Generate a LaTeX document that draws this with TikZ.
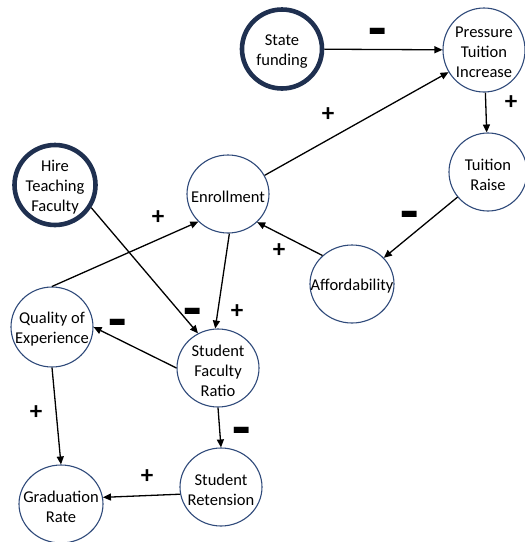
\documentclass[tikz,border=0pt]{standalone}
\usepackage{fontspec}
\setmainfont{Carlito}
\usetikzlibrary{shapes.geometric,arrows.meta}
\definecolor{ringblue}{HTML}{2F4A7A}
\definecolor{navy}{HTML}{1F3050}
\tikzset{
  circ/.style={ellipse, draw=ringblue, line width=1.1pt, inner sep=0pt},
  thickcirc/.style={ellipse, draw=navy, line width=4.6pt, inner sep=0pt},
  txt/.style={align=center, font=\fontsize{16.5}{20}\selectfont, inner sep=0pt, yshift=-2.5pt},
  conn/.style={line width=1.3pt, -{Triangle[length=8pt,width=7pt]}},
  plus/.style={font=\fontsize{25}{25}\selectfont\bfseries, inner sep=0pt},
  minus/.style={font=\fontsize{60}{60}\selectfont\bfseries, inner sep=0pt, yshift=-9pt}
}
\begin{document}
\begin{tikzpicture}[x=1pt,y=-1pt]
\useasboundingbox (0,0) rectangle (525,542);
% nodes
\node[thickcirc, minimum width=80pt, minimum height=79pt, label={[txt]center:State\\funding}] (sf) at (282,49) {};
\node[circ, minimum width=82pt, minimum height=84pt, label={[txt]center:Pressure\\Tuition\\Increase}] (pti) at (484,50) {};
\node[circ, minimum width=78pt, minimum height=78pt, label={[txt]center:Tuition\\Raise}] (tr) at (488,172) {};
\node[circ, minimum width=82pt, minimum height=78pt, label={[txt]center:Enrollment}] (en) at (228,194) {};
\node[thickcirc, minimum width=81pt, minimum height=80pt, label={[txt]center:Hire\\Teaching\\Faculty}] (htf) at (55,185) {};
\node[circ, minimum width=84pt, minimum height=78pt, label={[txt]center:Affordability}] (af) at (352,284) {};
\node[circ, minimum width=82pt, minimum height=80pt, label={[txt]center:Quality of\\Experience}] (qe) at (52,327) {};
\node[circ, minimum width=82pt, minimum height=78pt, label={[txt]center:Student\\Faculty\\Ratio}] (sfr) at (218,368) {};
\node[circ, minimum width=82pt, minimum height=78pt, label={[txt]center:Student\\Retension}] (sr) at (221,487) {};
\node[circ, minimum width=84pt, minimum height=78pt, label={[txt]center:Graduation\\Rate}] (gr) at (61,504) {};
% connectors
\draw[conn] (sf) -- (pti);
\draw[conn] (en.27) -- (pti.212);
\draw[conn] (pti) -- (tr);
\draw[conn] (tr) -- (af);
\draw[conn] (af.136) -- (en.-44);
\draw[conn] (qe.north) -- (en.223);
\draw[conn] (htf.-32) -- (sfr.120);
\draw[conn] (en.-88) -- (sfr.94);
\draw[conn] (sfr.west) -- (qe.east);
\draw[conn] (qe.south) -- (gr.north);
\draw[conn] (sfr.south) -- (sr.north);
\draw[conn] (sr.190) -- (gr.9);
% signs
\node[minus] (m1) at (378,29) {-};
\node[plus] (p1) at (328,115) {+};
\node[plus] (p2) at (511,103) {+};
\node[plus] (p3) at (158,218) {+};
\node[minus] (m2) at (410,212) {-};
\node[plus] (p4) at (279,251) {+};
\node[minus] (m3) at (193,309) {-};
\node[plus] (p5) at (237,312) {+};
\node[minus] (m4) at (118,320) {-};
\node[plus] (p6) at (36,413) {+};
\node[minus] (m5) at (242,428) {-};
\node[plus] (p7) at (147,477) {+};
\end{tikzpicture}
\end{document}
